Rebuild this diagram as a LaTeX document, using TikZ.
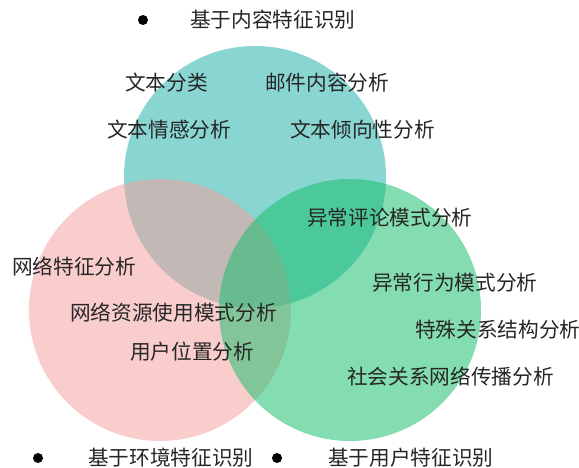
\documentclass[tikz,border=0pt]{standalone}
\usepackage{fontspec}
\newfontfamily\cjk{Noto Sans CJK SC}
\definecolor{tealc}{RGB}{30,175,170}
\definecolor{pinkc}{RGB}{247,160,160}
\definecolor{greenc}{RGB}{20,190,105}
\tikzset{
  lbl/.style={anchor=west, inner sep=0pt, font=\cjk\fontsize{15.5}{18}\selectfont, text=black!85},
  bullet/.style={circle, fill=black, inner sep=0pt, minimum size=7.5pt},
  setc/.style={fill=#1, fill opacity=0.52, draw=none}
}
\begin{document}
\begin{tikzpicture}[x=0.75pt,y=-0.75pt]
\useasboundingbox (0,0) rectangle (579,468);
\fill[white] (0,0) rectangle (579,468);
% circles
\path[setc=tealc] (255,177) circle[radius=98.25pt];
\path[setc=pinkc] (160,310) circle[radius=98.25pt];
\path[setc=greenc] (350,310) circle[radius=98.25pt];
% headings
\node[bullet] (b1) at (143,20) {};
\node[lbl] (h1) at (190,20) {基于内容特征识别};
\node[bullet] (b2) at (38,458) {};
\node[lbl] (h2) at (88,458) {基于环境特征识别};
\node[bullet] (b3) at (277,458) {};
\node[lbl] (h3) at (328,458) {基于用户特征识别};
% labels
\node[lbl] (l1) at (125,83) {文本分类};
\node[lbl] (l2) at (265,83) {邮件内容分析};
\node[lbl] (l3) at (107,130) {文本情感分析};
\node[lbl] (l4) at (290,130) {文本倾向性分析};
\node[lbl] (l5) at (307,218) {异常评论模式分析};
\node[lbl] (l6) at (12,267) {网络特征分析};
\node[lbl] (l7) at (372,283) {异常行为模式分析};
\node[lbl] (l8) at (70,313) {网络资源使用模式分析};
\node[lbl] (l9) at (415,330) {特殊关系结构分析};
\node[lbl] (l10) at (130,352) {用户位置分析};
\node[lbl] (l11) at (347,377) {社会关系网络传播分析};
\end{tikzpicture}
\end{document}
